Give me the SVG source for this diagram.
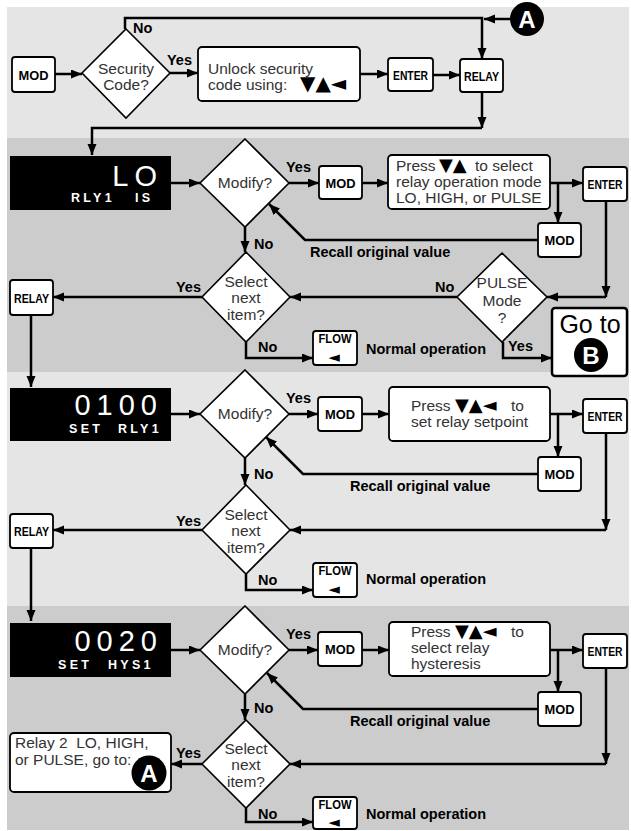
<svg xmlns="http://www.w3.org/2000/svg" width="631" height="831" viewBox="0 0 631 831">
<defs>
<marker id="arr" markerUnits="userSpaceOnUse" markerWidth="12" markerHeight="10" refX="11" refY="4.5" orient="auto"><path d="M0,0 L11,4.5 L0,9 z" fill="#000"/></marker>
<style>
.bg1{fill:#e5e5e5}.bg2{fill:#cccccc}
.box{fill:#fff;stroke:#000;stroke-width:1.8}
.dia{fill:#fff;stroke:#000;stroke-width:1.6}
.disp{fill:#000}
.c{fill:none;stroke:#000;stroke-width:2.5;marker-end:url(#arr)}
.btn{font-family:"Liberation Sans",Arial,sans-serif;font-weight:bold;font-size:13px;text-anchor:middle;fill:#000}
.lbl{font-family:"Liberation Sans",Arial,sans-serif;font-weight:bold;font-size:14.5px;fill:#000}
.lt{font-family:"Liberation Sans",Arial,sans-serif;font-size:15.5px;fill:#333}
.ltc{font-family:"Liberation Sans",Arial,sans-serif;font-size:15.5px;fill:#333;text-anchor:middle}
.tri{font-family:"DejaVu Sans",sans-serif;font-size:20px;fill:#000}
.tri2{font-family:"DejaVu Sans",sans-serif;font-size:18px;fill:#000}
.big{font-family:"Liberation Sans",Arial,sans-serif;font-size:29px;fill:#fff;letter-spacing:6px;text-anchor:end}
.sm{font-family:"Liberation Sans",Arial,sans-serif;font-weight:bold;font-size:12.5px;fill:#fff;letter-spacing:3.3px}
.circ{fill:#000}
.ctx{font-family:"Liberation Sans",Arial,sans-serif;font-weight:bold;font-size:24px;fill:#fff;text-anchor:middle}
.flw{font-family:"Liberation Sans",Arial,sans-serif;font-weight:bold;font-size:12px;text-anchor:middle;fill:#000}
.fa{font-family:"DejaVu Sans",sans-serif;font-size:15px;fill:#000;text-anchor:middle}
</style>
</defs>
<rect class="bg1" x="7" y="7" width="622" height="131"/>
<rect class="bg2" x="7" y="138" width="622" height="234"/>
<rect class="bg1" x="7" y="372" width="622" height="234"/>
<rect class="bg2" x="7" y="606" width="622" height="224"/>

<g id="connectors">
<path class="c" d="M55,74 H82"/>
<path class="c" d="M125,29 V18 H482 V59"/>
<path class="c" d="M510,19 H484"/>
<path class="c" d="M170,73 H198"/>
<path class="c" d="M360,74 H388"/>
<path class="c" d="M433,75 H460"/>
<path class="c" d="M482,92 V128"/>
<path class="c" d="M482,128 H92 V155"/>

<path class="c" d="M171,183 H200"/>
<path class="c" d="M289,183 H319"/>
<path class="c" d="M362,183 H388"/>
<path class="c" d="M550,183 H583"/>
<path class="c" d="M558,183 V223"/>
<path class="c" d="M538,240 H305 L269,204"/>
<path class="c" d="M245,227 V252"/>
<path class="c" d="M606,201 V297"/>
<path class="c" d="M606,297 H547"/>
<path class="c" d="M457,297 H290"/>
<path class="c" d="M202,297 H53"/>
<path class="c" d="M31,315 V387"/>
<path class="c" d="M246,342 V358 H313"/>
<path class="c" d="M503,342 V358 H552"/>

<path class="c" d="M171,414 H200"/>
<path class="c" d="M289,414 H318"/>
<path class="c" d="M362,414 H389"/>
<path class="c" d="M550,414 H583"/>
<path class="c" d="M558,414 V457"/>
<path class="c" d="M538,474 H303 L266,437"/>
<path class="c" d="M245,458 V485"/>
<path class="c" d="M606,433 V530"/>
<path class="c" d="M606,530 H290"/>
<path class="c" d="M202,530 H53"/>
<path class="c" d="M31,548 V621"/>
<path class="c" d="M246,574 V590 H313"/>

<path class="c" d="M171,650 H200"/>
<path class="c" d="M289,650 H318"/>
<path class="c" d="M362,650 H389"/>
<path class="c" d="M550,650 H583"/>
<path class="c" d="M558,650 V692"/>
<path class="c" d="M538,709 H303 L267,673"/>
<path class="c" d="M245,694 V720"/>
<path class="c" d="M606,668 V764"/>
<path class="c" d="M606,764 H290"/>
<path class="c" d="M202,764 H171"/>
<path class="c" d="M246,808 V822 H313"/>
</g>

<g id="edge-labels">
<text class="lbl" x="133" y="33">No</text>
<text class="lbl" x="167" y="65">Yes</text>
<text class="lbl" x="286" y="172">Yes</text>
<text class="lbl" x="254" y="249">No</text>
<text class="lbl" x="310" y="257">Recall original value</text>
<text class="lbl" x="435" y="292">No</text>
<text class="lbl" x="176" y="292">Yes</text>
<text class="lbl" x="258" y="352">No</text>
<text class="lbl" x="508" y="351">Yes</text>
<text class="lbl" x="366" y="354">Normal operation</text>

<text class="lbl" x="286" y="403">Yes</text>
<text class="lbl" x="254" y="479">No</text>
<text class="lbl" x="350" y="491">Recall original value</text>
<text class="lbl" x="176" y="526">Yes</text>
<text class="lbl" x="258" y="585">No</text>
<text class="lbl" x="366" y="584">Normal operation</text>

<text class="lbl" x="286" y="639">Yes</text>
<text class="lbl" x="254" y="713">No</text>
<text class="lbl" x="350" y="726">Recall original value</text>
<text class="lbl" x="176" y="758">Yes</text>
<text class="lbl" x="258" y="819">No</text>
<text class="lbl" x="366" y="819">Normal operation</text>
</g>

<!-- Section 1 -->
<g id="mod0"><rect class="box" x="12" y="57" width="43" height="35" rx="3"/><text class="btn" x="33.5" y="79.5" textLength="30" lengthAdjust="spacingAndGlyphs">MOD</text></g>
<g id="security"><polygon class="dia" points="126,29 170,73 126,118 82,73"/><text class="ltc" x="126" y="74">Security</text><text class="ltc" x="126" y="90">Code?</text></g>
<g id="unlock"><rect class="box" x="198" y="47" width="162" height="54" rx="4"/><text class="lt" x="208" y="74">Unlock security</text><text class="lt" x="208" y="90">code using:</text><text class="tri" x="300" y="90">▼▲◄</text></g>
<g id="enter0"><rect class="box" x="388" y="58" width="45" height="33" rx="3"/><text class="btn" x="410.5" y="79.5" textLength="35" lengthAdjust="spacingAndGlyphs">ENTER</text></g>
<g id="relay0"><rect class="box" x="460" y="59" width="43" height="33" rx="3"/><text class="btn" x="481.5" y="80.5" textLength="35" lengthAdjust="spacingAndGlyphs">RELAY</text></g>
<g id="circleA1"><circle class="circ" cx="527" cy="19" r="17"/><text class="ctx" x="527" y="28">A</text></g>

<!-- Section 2 -->
<g id="disp1"><rect class="disp" x="10" y="156" width="161" height="54"/><text class="big" x="163" y="186">LO</text><text class="sm" x="71" y="202">RLY1</text><text class="sm" x="135" y="202">IS</text></g>
<g id="modify1"><polygon class="dia" points="245,139 289,183 245,227 200,183"/><text class="ltc" x="245" y="188">Modify?</text></g>
<g id="mod1"><rect class="box" x="319" y="166" width="43" height="33" rx="3"/><text class="btn" x="340.5" y="187.5" textLength="30" lengthAdjust="spacingAndGlyphs">MOD</text></g>
<g id="press1"><rect class="box" x="388" y="155" width="162" height="54" rx="4"/><text class="lt" x="396" y="171">Press</text><text class="tri2" x="439" y="171">▼▲</text><text class="lt" x="475" y="171">to select</text><text class="lt" x="396" y="187">relay operation mode</text><text class="lt" x="396" y="203">LO, HIGH, or PULSE</text></g>
<g id="enter1"><rect class="box" x="583" y="167" width="44" height="34" rx="3"/><text class="btn" x="605" y="188.5" textLength="35" lengthAdjust="spacingAndGlyphs">ENTER</text></g>
<g id="modr1"><rect class="box" x="538" y="223" width="43" height="34" rx="3"/><text class="btn" x="559.5" y="244.5" textLength="30" lengthAdjust="spacingAndGlyphs">MOD</text></g>
<g id="select1"><polygon class="dia" points="246,252 290,297 246,342 202,297"/><text class="ltc" x="246" y="287">Select</text><text class="ltc" x="246" y="303">next</text><text class="ltc" x="246" y="320">item?</text></g>
<g id="pulse"><polygon class="dia" points="502,253 547,297 502,342 457,297"/><text class="ltc" x="502" y="288">PULSE</text><text class="ltc" x="502" y="306">Mode</text><text class="ltc" x="502" y="323">?</text></g>
<g id="relay1"><rect class="box" x="10" y="280" width="43" height="35" rx="3"/><text class="btn" x="31.5" y="302.5" textLength="35" lengthAdjust="spacingAndGlyphs">RELAY</text></g>
<g id="flow1"><rect class="box" x="313" y="331" width="44" height="34" rx="3"/><text class="flw" x="335" y="343" textLength="33" lengthAdjust="spacingAndGlyphs">FLOW</text><text class="fa" x="334" y="362">◄</text></g>
<g id="gotoB"><rect fill="#fff" stroke="#000" stroke-width="2.5" x="552" y="308" width="75" height="68" rx="3"/><text font-family="Liberation Sans,Arial,sans-serif" font-size="25" text-anchor="middle" x="590" y="333">Go to</text><circle class="circ" cx="591" cy="355" r="17"/><text class="ctx" x="591" y="364">B</text></g>

<!-- Section 3 -->
<g id="disp2"><rect class="disp" x="10" y="388" width="161" height="53"/><text class="big" x="163" y="415">0100</text><text class="sm" x="69" y="433">SET</text><text class="sm" x="118" y="433">RLY1</text></g>
<g id="modify2"><polygon class="dia" points="245,370 289,414 245,458 200,414"/><text class="ltc" x="245" y="419">Modify?</text></g>
<g id="mod2"><rect class="box" x="318" y="397" width="44" height="34" rx="3"/><text class="btn" x="340" y="418.5" textLength="30" lengthAdjust="spacingAndGlyphs">MOD</text></g>
<g id="press2"><rect class="box" x="389" y="387" width="161" height="54" rx="4"/><text class="lt" x="411" y="411">Press</text><text class="tri2" x="455" y="411">▼▲◄</text><text class="lt" x="511" y="411">to</text><text class="lt" x="411" y="427">set relay setpoint</text></g>
<g id="enter2"><rect class="box" x="583" y="399" width="44" height="34" rx="3"/><text class="btn" x="605" y="420.5" textLength="35" lengthAdjust="spacingAndGlyphs">ENTER</text></g>
<g id="modr2"><rect class="box" x="538" y="457" width="43" height="34" rx="3"/><text class="btn" x="559.5" y="478.5" textLength="30" lengthAdjust="spacingAndGlyphs">MOD</text></g>
<g id="select2"><polygon class="dia" points="246,485 290,530 246,574 202,530"/><text class="ltc" x="246" y="520">Select</text><text class="ltc" x="246" y="536">next</text><text class="ltc" x="246" y="553">item?</text></g>
<g id="relay2"><rect class="box" x="10" y="514" width="43" height="34" rx="3"/><text class="btn" x="31.5" y="535.5" textLength="35" lengthAdjust="spacingAndGlyphs">RELAY</text></g>
<g id="flow2"><rect class="box" x="313" y="563" width="44" height="34" rx="3"/><text class="flw" x="335" y="575" textLength="33" lengthAdjust="spacingAndGlyphs">FLOW</text><text class="fa" x="334" y="594">◄</text></g>

<!-- Section 4 -->
<g id="disp3"><rect class="disp" x="10" y="623" width="161" height="54"/><text class="big" x="163" y="651">0020</text><text class="sm" x="58" y="669">SET</text><text class="sm" x="108" y="669">HYS1</text></g>
<g id="modify3"><polygon class="dia" points="245,606 289,650 245,694 200,650"/><text class="ltc" x="245" y="655">Modify?</text></g>
<g id="mod3"><rect class="box" x="318" y="632" width="44" height="34" rx="3"/><text class="btn" x="340" y="653.5" textLength="30" lengthAdjust="spacingAndGlyphs">MOD</text></g>
<g id="press3"><rect class="box" x="389" y="622" width="161" height="54" rx="4"/><text class="lt" x="411" y="637">Press</text><text class="tri2" x="455" y="637">▼▲◄</text><text class="lt" x="511" y="637">to</text><text class="lt" x="411" y="653">select relay</text><text class="lt" x="411" y="669">hysteresis</text></g>
<g id="enter3"><rect class="box" x="583" y="634" width="44" height="34" rx="3"/><text class="btn" x="605" y="655.5" textLength="35" lengthAdjust="spacingAndGlyphs">ENTER</text></g>
<g id="modr3"><rect class="box" x="538" y="692" width="43" height="34" rx="3"/><text class="btn" x="559.5" y="713.5" textLength="30" lengthAdjust="spacingAndGlyphs">MOD</text></g>
<g id="select3"><polygon class="dia" points="246,720 290,764 246,808 202,764"/><text class="ltc" x="246" y="754">Select</text><text class="ltc" x="246" y="770">next</text><text class="ltc" x="246" y="787">item?</text></g>
<g id="relay2box"><rect class="box" x="10" y="733" width="161" height="59" rx="4"/><text class="lt" x="15" y="748" xml:space="preserve">Relay 2  LO, HIGH,</text><text class="lt" x="15" y="765">or PULSE, go to:</text><circle class="circ" cx="149" cy="773" r="17.5"/><text class="ctx" x="149" y="782">A</text></g>
<g id="flow3"><rect class="box" x="313" y="797" width="44" height="32" rx="3"/><text class="flw" x="335" y="809" textLength="33" lengthAdjust="spacingAndGlyphs">FLOW</text><text class="fa" x="334" y="827">◄</text></g>
</svg>
